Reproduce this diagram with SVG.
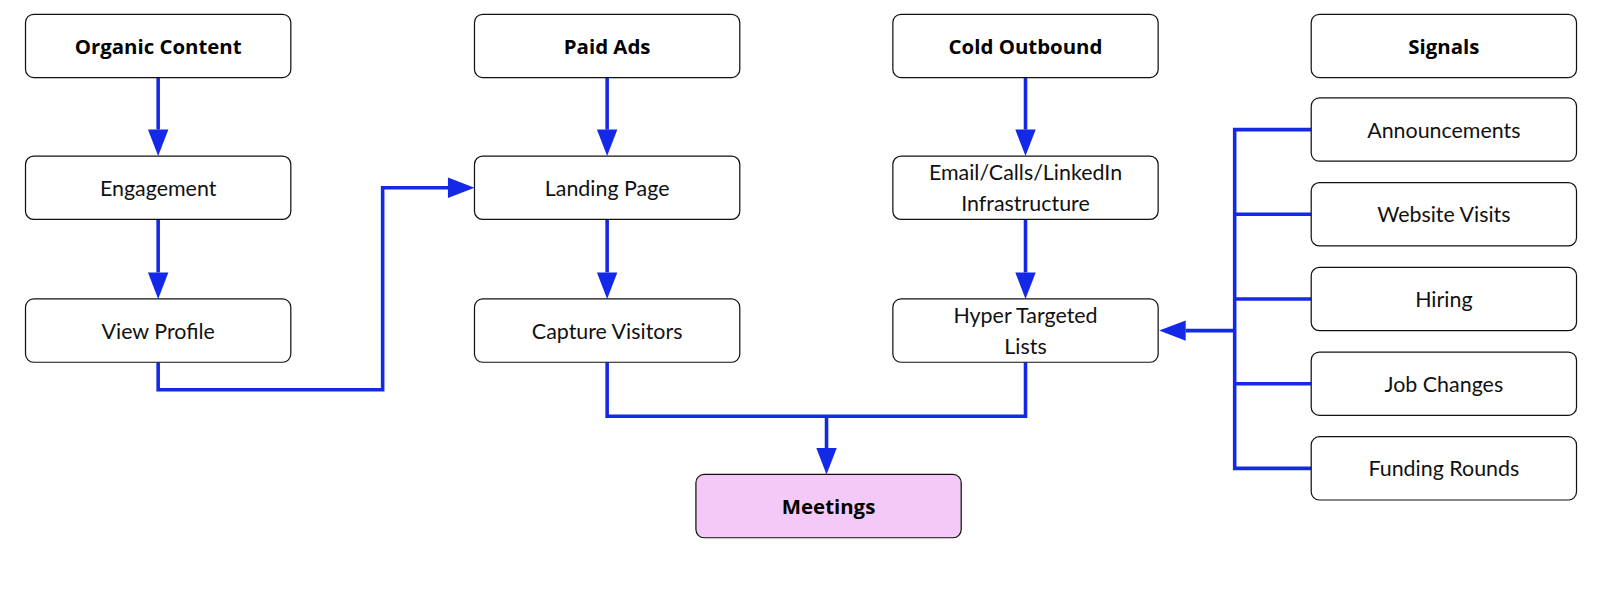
<svg xmlns="http://www.w3.org/2000/svg" width="1600" height="600" viewBox="0 0 1600 600">
<style>
.n{fill:#fff;stroke:#111;stroke-width:1.2}
.t{font-family:Lato,"Noto Sans",sans-serif;font-size:21px;fill:#111;text-anchor:middle;dominant-baseline:central}
.b{font-family:"Open Sans","Noto Sans",sans-serif;font-weight:bold;font-size:20px;fill:#000;text-anchor:middle;dominant-baseline:central}
.c{fill:none;stroke:#1428e8;stroke-width:3.5}
</style>
<rect width="1600" height="600" fill="#fff"/>
<g transform="scale(1.0204)">
<g id="connectors">
<path class="c" d="M155 76V127"/><path d="M145 127h20l-10 26z" fill="#1428e8"/>
<path class="c" d="M155 215V267"/><path d="M145 267h20l-10 26z" fill="#1428e8"/>
<path class="c" d="M595 76V127"/><path d="M585 127h20l-10 26z" fill="#1428e8"/>
<path class="c" d="M595 215V267"/><path d="M585 267h20l-10 26z" fill="#1428e8"/>
<path class="c" d="M1005 76V127"/><path d="M995 127h20l-10 26z" fill="#1428e8"/>
<path class="c" d="M1005 215V267"/><path d="M995 267h20l-10 26z" fill="#1428e8"/>
<path class="c" d="M155 355V382H375V184H440"/><path d="M439 174v20l26-10z" fill="#1428e8"/>
<path class="c" d="M595 355V408H1005V355M810 408V440"/><path d="M800 439h20l-10 26z" fill="#1428e8"/>
<path class="c" d="M1285 127H1210V459H1285M1210 210H1285M1210 293H1285M1210 376H1285M1210 324H1162"/><path d="M1162 314v20l-26-10z" fill="#1428e8"/>
</g>
<g id="organic"><rect class="n" x="25" y="14" width="260" height="62" rx="8"/><text class="b" x="155" y="45">Organic Content</text></g>
<g id="engagement"><rect class="n" x="25" y="153" width="260" height="62" rx="8"/><text class="t" x="155" y="184">Engagement</text></g>
<g id="viewprofile"><rect class="n" x="25" y="293" width="260" height="62" rx="8"/><text class="t" x="155" y="324">View Profile</text></g>
<g id="paidads"><rect class="n" x="465" y="14" width="260" height="62" rx="8"/><text class="b" x="595" y="45">Paid Ads</text></g>
<g id="landing"><rect class="n" x="465" y="153" width="260" height="62" rx="8"/><text class="t" x="595" y="184">Landing Page</text></g>
<g id="capture"><rect class="n" x="465" y="293" width="260" height="62" rx="8"/><text class="t" x="595" y="324">Capture Visitors</text></g>
<g id="cold"><rect class="n" x="875" y="14" width="260" height="62" rx="8"/><text class="b" x="1005" y="45">Cold Outbound</text></g>
<g id="email"><rect class="n" x="875" y="153" width="260" height="62" rx="8"/><text class="t" x="1005" y="169">Email/Calls/LinkedIn</text><text class="t" x="1005" y="199">Infrastructure</text></g>
<g id="hyper"><rect class="n" x="875" y="293" width="260" height="62" rx="8"/><text class="t" x="1005" y="309">Hyper Targeted</text><text class="t" x="1005" y="339">Lists</text></g>
<g id="signals"><rect class="n" x="1285" y="14" width="260" height="62" rx="8"/><text class="b" x="1415" y="45">Signals</text></g>
<g id="announcements"><rect class="n" x="1285" y="96" width="260" height="62" rx="8"/><text class="t" x="1415" y="127">Announcements</text></g>
<g id="website"><rect class="n" x="1285" y="179" width="260" height="62" rx="8"/><text class="t" x="1415" y="210">Website Visits</text></g>
<g id="hiring"><rect class="n" x="1285" y="262" width="260" height="62" rx="8"/><text class="t" x="1415" y="293">Hiring</text></g>
<g id="jobchanges"><rect class="n" x="1285" y="345" width="260" height="62" rx="8"/><text class="t" x="1415" y="376">Job Changes</text></g>
<g id="funding"><rect class="n" x="1285" y="428" width="260" height="62" rx="8"/><text class="t" x="1415" y="459">Funding Rounds</text></g>
<g id="meetings"><rect class="n" x="682" y="465" width="260" height="62" rx="8" style="fill:#f5c9f7"/><text class="b" x="812" y="496">Meetings</text></g>
</g>
</svg>
